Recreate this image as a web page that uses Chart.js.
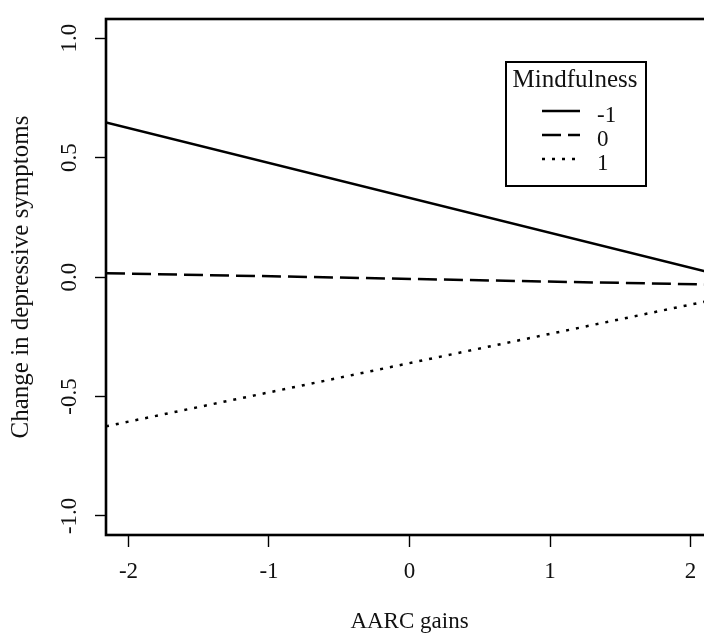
<!DOCTYPE html>
<html>
<head>
<meta charset="utf-8">
<script src="https://cdn.jsdelivr.net/npm/chart.js@4.4.0/dist/chart.umd.min.js"></script>
<style>
html, body { margin: 0; padding: 0; background: #fff; overflow: hidden; }
#wrap { width: 720px; height: 634px; }
</style>
</head>
<body>
<div id="wrap"><canvas id="plot" width="720" height="634"></canvas></div>
<script>
// simple slopes of AARC gains at three levels of mindfulness
var xEnds = [-2.16, 2.16];
var lowMindful = [0.647, 0.016];
var meanMindful = [0.016, -0.032];
var highMindful = [-0.625, -0.096];
var groupLabels = ['-1', '0', '1'];
var xTicks = [-2, -1, 0, 1, 2];
var yTicks = [-1, -0.5, 0, 0.5, 1];

var FONT = '"Liberation Serif", "Times New Roman", serif';
Chart.defaults.font.family = FONT;
Chart.defaults.color = '#111';

function pts(ys){
    return xEnds.map(function(x, i){ return {x: x, y: ys[i]}; });
}
function line(label, ys, dash){
    return {
        label: label, data: pts(ys), showLine: true, pointRadius: 0,
        borderColor: '#000', borderWidth: 2.5, borderDash: dash,
        borderCapStyle: 'butt', fill: false
    };
}

// box round the plotting region, as in base R
var frame = {
    id: 'frame',
    afterDatasetsDraw: function(chart){
        var a = chart.chartArea, c = chart.ctx;
        c.save();
        c.strokeStyle = '#000';
        c.lineWidth = 2.6;
        c.strokeRect(a.left, a.top, a.right - a.left, a.bottom - a.top);
        c.restore();
    }
};

// legend with a title and a border
var boxLegend = {
    id: 'boxLegend',
    afterDraw: function(chart){
        var c = chart.ctx;
        c.save();
        c.strokeStyle = '#000';
        c.lineWidth = 2;
        c.strokeRect(506, 62, 140, 124);
        c.fillStyle = '#111';
        c.font = '25px ' + FONT;
        c.textAlign = 'center';
        c.textBaseline = 'alphabetic';
        c.fillText('Mindfulness', 575, 87);
        c.font = '23px ' + FONT;
        c.textAlign = 'left';
        chart.data.datasets.forEach(function(ds, i){
            var y = 111 + i * 24;
            c.beginPath();
            c.setLineDash(ds.borderDash);
            c.lineWidth = 2.5;
            c.moveTo(542, y);
            c.lineTo(580, y);
            c.stroke();
            c.setLineDash([]);
            c.fillText(ds.label, 597, y + 11);
        });
        c.restore();
    }
};

new Chart(document.getElementById('plot'), {
    type: 'scatter',
    data: {
        datasets: [
            line(groupLabels[0], lowMindful, []),
            line(groupLabels[1], meanMindful, [19, 7]),
            line(groupLabels[2], highMindful, [3, 7])
        ]
    },
    options: {
        responsive: false,
        animation: false,
        layout: { padding: { left: 0, top: 19, right: 7, bottom: 0 } },
        plugins: { legend: { display: false }, tooltip: { enabled: false } },
        scales: {
            x: {
                type: 'linear', min: xEnds[0], max: xEnds[1],
                afterBuildTicks: function(s){ s.ticks = xTicks.map(function(v){ return {value: v}; }); },
                afterFit: function(s){ s.height = 99; s.paddingLeft = 0; s.paddingRight = 0; },
                border: { display: false },
                grid: { drawOnChartArea: false, drawTicks: true, tickLength: 12, tickWidth: 1.4, tickColor: '#000' },
                ticks: { font: { size: 23 }, padding: 11.4, callback: function(v){ return String(v); } },
                title: { display: true, text: 'AARC gains', font: { size: 23, lineHeight: 1 }, padding: { top: 0, bottom: 0.5 } }
            },
            y: {
                type: 'linear', min: -1.08, max: 1.08,
                afterBuildTicks: function(s){ s.ticks = yTicks.map(function(v){ return {value: v}; }); },
                afterFit: function(s){ s.width = 106; s.paddingTop = 0; s.paddingBottom = 0; },
                border: { display: false },
                grid: { drawOnChartArea: false, drawTicks: true, tickLength: 11, tickWidth: 1.4, tickColor: '#000' },
                ticks: { font: { size: 23 }, minRotation: 90, maxRotation: 90, crossAlign: 'center', padding: 6.8,
                         callback: function(v){ return v.toFixed(1); } },
                title: { display: true, text: 'Change in depressive symptoms', font: { size: 25, lineHeight: 1 }, padding: { top: 8.5, bottom: 0 } }
            }
        }
    },
    plugins: [frame, boxLegend]
});
</script>
</body>
</html>
